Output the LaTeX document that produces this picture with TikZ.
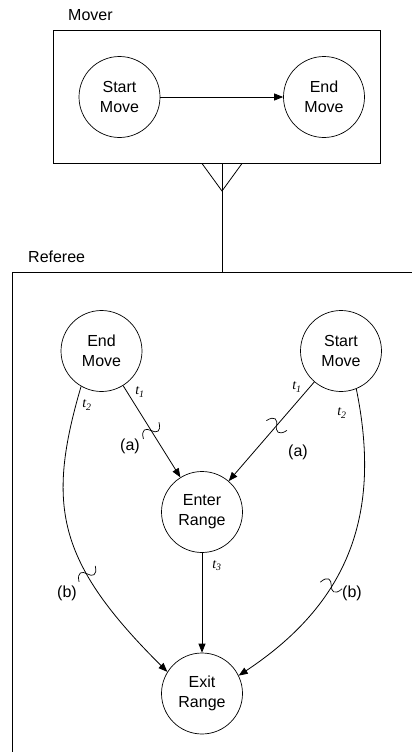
\documentclass[tikz,border=0pt]{standalone}
\usepackage{fontspec}
\setmainfont{Liberation Sans}
\newfontfamily\tfont{Liberation Serif}
\usetikzlibrary{arrows.meta}
\begin{document}
\begin{tikzpicture}[x=1pt,y=-1pt,
  state/.style={circle, draw, line width=0.7pt, minimum size=81pt, inner sep=0pt, align=center, font=\fontsize{16}{20}\selectfont},
  boxline/.style={draw, line width=1pt},
  conn/.style={line width=0.8pt, -{Triangle[length=9pt,width=7pt]}},
  lbl/.style={font=\fontsize{16}{20}\selectfont, inner sep=0pt},
  tl/.style={font=\fontsize{14}{16}\selectfont\tfont\itshape, inner sep=0pt},
  squig/.pic={\draw[line width=0.7pt, arrows=-] (3,11) .. controls (-7,8) and (-5,3) .. (0,0) .. controls (5,-3) and (7,-8) .. (-3,-11);}
]
\useasboundingbox (0,0) rectangle (412,752);
% Mover
\node[lbl, anchor=west] (moverlbl) at (68,15) {Mover};
\node[boxline, minimum width=327pt, minimum height=132pt, inner sep=0pt] (mover) at (216.5,97) {};
\node[state] (sm1) at (119.5,97) {Start\\Move};
\node[state] (em1) at (324,97) {End\\Move};
\draw[conn] (sm1) -- (em1);
% link
\coordinate (tip) at (222,191);
\coordinate (reftop) at (222,272);
\draw[line width=0.8pt] (mover.south -| tip) -- (reftop);
\draw[line width=0.8pt] ([xshift=-20pt]mover.south -| tip) -- (tip) -- ([xshift=20pt]mover.south -| tip);
% Referee
\node[lbl, anchor=west] (reflbl) at (28,257) {Referee};
\draw[boxline] (412,272) -- (12,272) -- (12,752);
\node[state] (em2) at (101.5,351) {End\\Move};
\node[state] (sm2) at (341,351) {Start\\Move};
\node[state] (enter) at (202,512) {Enter\\Range};
\node[state] (exit) at (202,693.5) {Exit\\Range};
\draw[conn] (em2) -- (enter) pic[pos=0.49, sloped, allow upside down]{squig};
\draw[conn] (sm2) -- (enter) pic[pos=0.44, sloped, allow upside down]{squig};
\draw[conn] (enter) -- (exit);
\draw[conn] (em2.-120) .. controls (46,506) and (57,562) .. (exit.148) pic[pos=0.66, sloped, allow upside down]{squig};
\draw[conn] (sm2.-68) .. controls (380,505) and (356,598) .. (exit.26) pic[pos=0.64, sloped, allow upside down]{squig};
% labels
\node[lbl] (la1) at (130,446) {(a)};
\node[lbl] (la2) at (298,452) {(a)};
\node[lbl] (lb1) at (67,593) {(b)};
\node[lbl] (lb2) at (352,593) {(b)};
\node[tl] (t1a) at (140,392) {t\textsubscript{1}};
\node[tl] (t2a) at (87,405) {t\textsubscript{2}};
\node[tl] (t1b) at (297,387) {t\textsubscript{1}};
\node[tl] (t2b) at (342,413) {t\textsubscript{2}};
\node[tl] (t3) at (217,566) {t\textsubscript{3}};
\end{tikzpicture}
\end{document}
